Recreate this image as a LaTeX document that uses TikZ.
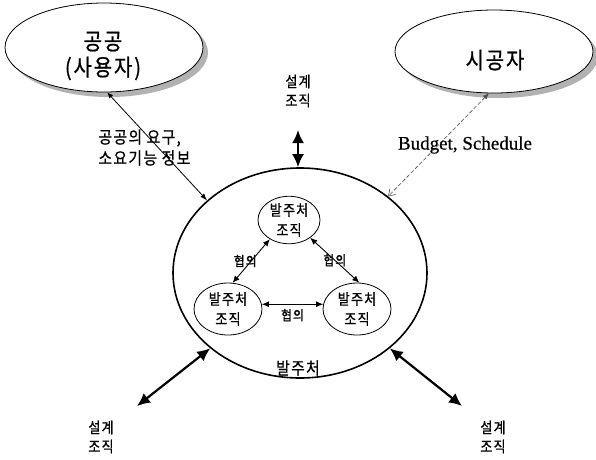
\documentclass[tikz,border=0pt]{standalone}
\usepackage{fontspec}
\setmainfont{Noto Sans CJK KR}[LetterSpace=8, FakeStretch=0.87, FakeBold=0.8]
\newfontfamily\budgetfont{Liberation Serif}[FakeBold=0.6]
\usetikzlibrary{arrows.meta, shapes.geometric, shadows}

\begin{document}
\begin{tikzpicture}[x=1pt, y=-1pt,
    party/.style={ellipse, draw, thick, fill=white, inner sep=0pt,
        drop shadow={shadow xshift=5pt, shadow yshift=-5pt, fill=black!30, opacity=1}},
    org/.style={ellipse, draw, thick, inner sep=0pt, align=center,
        minimum width=68pt, minimum height=52pt, font=\fontsize{15}{20}\selectfont},
    talk/.style={{Latex[length=7pt,width=6pt]}-{Latex[length=7pt,width=6pt]}, line width=0.9pt},
    heavy/.style={{Latex[length=13pt,width=12pt]}-{Latex[length=13pt,width=12pt]}, line width=2.2pt},
    design/.style={align=center, font=\fontsize{15}{19}\selectfont}]
    \useasboundingbox (0,0) rectangle (596,459);

    % parties outside
    \node[party, minimum width=198pt, minimum height=89pt] at (104,47.5) (public) {};
    \node[font=\fontsize{23}{26}\selectfont, align=center] at (103,56) (publiclabel) {공공\\(사용자)};
    \node[party, minimum width=198pt, minimum height=83pt] at (494,51.5) (builder) {};
    \node[font=\fontsize{23}{26}\selectfont] at (495,60) (builderlabel) {시공자};

    % owner with its organisations
    \node[ellipse, draw, line width=1.6pt, minimum width=254pt, minimum height=210pt] at (300,273) (owner) {};
    \node[font=\fontsize{17}{18}\selectfont] at (298,368) (ownerlabel) {발주처};
    \node[org, minimum width=62pt, minimum height=46pt] at (289,220) (orgtop) {발주처\\조직};
    \node[org] at (228,309) (orgleft) {발주처\\조직};
    \node[org] at (357,309) (orgright) {발주처\\조직};
    \draw[talk] (orgtop.225) -- (orgleft.80)
        node[midway, xshift=-6pt, font=\fontsize{13.5}{14}\selectfont] {협의};
    \draw[talk] (orgtop.-40) -- (orgright.85)
        node[midway, font=\fontsize{13.5}{14}\selectfont] {협의};
    \draw[talk] (orgleft.8) -- (orgright.172)
        node[midway, below=1pt, font=\fontsize{13.5}{14}\selectfont] {협의};

    % design organisations
    \node[design] at (298,91) (designtop) {설계\\조직};
    \node[design] at (101,437) (designleft) {설계\\조직};
    \node[design] at (493,437) (designright) {설계\\조직};
    \coordinate (designtopend) at (298,130);
    \coordinate (designleftend) at (137,406);
    \coordinate (designrightend) at (462,406);
    \draw[heavy] (designtopend) -- (designtopend |- owner.north);
    \draw[heavy] (designleftend) -- (owner.220);
    \draw[heavy] (designrightend) -- (owner.-40);

    % flows from public and builder
    \draw[{Latex[length=6pt,width=5pt]}-{Latex[length=7pt,width=5pt]}, line width=0.8pt] (public.-86) -- (owner.142);
    \node[anchor=west, align=left, font=\fontsize{17}{21}\selectfont] at (95,147.5) (needs) {공공의 요구,\\소요기능 정보};
    \draw[dash pattern=on 4pt off 2pt, black!70, {Latex[length=6pt,width=5pt]}-{Straight Barb[length=6pt,width=8pt]}, line width=0.6pt] (builder.-97) -- (owner.41);
    \node[font=\budgetfont\fontsize{19}{22}\selectfont] at (465,145) (budget) {Budget, Schedule};
\end{tikzpicture}
\end{document}
